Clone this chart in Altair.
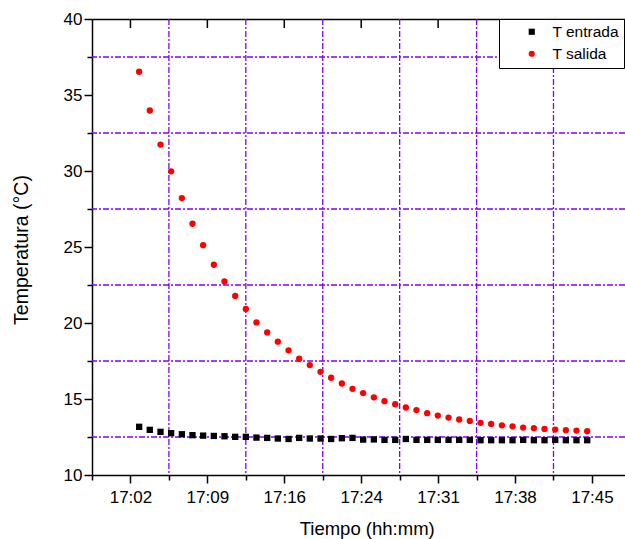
import altair as alt
import pandas as pd

# ---- data ----
times = [3.31, 4.30, 5.30, 6.29, 7.29, 8.28, 9.27, 10.27, 11.26, 12.26,
         13.25, 14.24, 15.24, 16.23, 17.23, 18.22, 19.21, 20.21, 21.20, 22.20,
         23.19, 24.18, 25.18, 26.17, 27.17, 28.16, 29.15, 30.15, 31.14, 32.14,
         33.13, 34.12, 35.12, 36.11, 37.11, 38.10, 39.09, 40.09, 41.08, 42.08,
         43.07, 44.06, 45.06]
t_entrada = [13.17, 12.97, 12.84, 12.75, 12.68, 12.62, 12.59, 12.57, 12.55, 12.51,
             12.51, 12.46, 12.44, 12.40, 12.37, 12.44, 12.40, 12.40, 12.37, 12.42,
             12.44, 12.33, 12.34, 12.31, 12.31, 12.37, 12.31, 12.31, 12.31, 12.31,
             12.31, 12.31, 12.29, 12.29, 12.29, 12.29, 12.31, 12.29, 12.29, 12.31,
             12.29, 12.29, 12.29]
t_salida = [36.53, 33.98, 31.74, 29.98, 28.22, 26.53, 25.12, 23.83, 22.73, 21.78,
            20.92, 20.04, 19.38, 18.77, 18.20, 17.65, 17.23, 16.79, 16.40, 16.02,
            15.67, 15.39, 15.11, 14.86, 14.66, 14.44, 14.27, 14.07, 13.91, 13.78,
            13.65, 13.56, 13.43, 13.36, 13.27, 13.20, 13.12, 13.08, 13.03, 12.99,
            12.95, 12.92, 12.88]
series_names = ["T entrada", "T salida"]
series_colors = ["#000000", "#ff0000"]
series_shapes = ["square", "circle"]

x_major = [2.5, 9.6667, 16.8333, 24.0, 31.1667, 38.3333, 45.5]
x_labels = ["17:02", "17:09", "17:16", "17:24", "17:31", "17:38", "17:45"]
x_minor = [-1.0833, 6.0833, 13.25, 20.4167, 27.5833, 34.75, 41.9167]
y_major = [10, 15, 20, 25, 30, 35, 40]
y_minor = [12.5, 17.5, 22.5, 27.5, 32.5, 37.5]
x_domain = [-1.0833, 48.58]
y_domain = [10, 40]

FONT = "Liberation Sans"
GRID = "#8000ff"
DASH = [6, 2, 2, 2]

df = pd.DataFrame({
    "t": times + times,
    "temp": t_entrada + t_salida,
    "serie": [series_names[0]] * len(times) + [series_names[1]] * len(times),
})
ticks_df = pd.DataFrame({"t": x_major})
vgrid_df = pd.DataFrame({"t": x_minor[1:]})
hgrid_df = pd.DataFrame({"temp": y_minor})

label_expr = ""
for v, lab in zip(x_minor[1:], x_labels[:-1]):
    label_expr += f"datum.value < {v} ? '{lab}' : "
label_expr += f"'{x_labels[-1]}'"

x_scale = alt.Scale(domain=x_domain, nice=False, zero=False)
y_scale = alt.Scale(domain=y_domain, nice=False, zero=False)

legend = alt.Legend(
    title=None, orient="none", legendX=407, legendY=0,
    strokeColor="black", fillColor="white", padding=5, rowPadding=5,
    labelFont=FONT, labelFontSize=15.5, labelColor="black",
    symbolSize=38, symbolOffset=20, labelOffset=13, cornerRadius=0,
)

vgrid = alt.Chart(vgrid_df).mark_rule(color=GRID, strokeWidth=1.3, strokeDash=DASH).encode(
    x=alt.X("t:Q", scale=x_scale, axis=None),
)
hgrid = alt.Chart(hgrid_df).mark_rule(color=GRID, strokeWidth=1.3, strokeDash=DASH).encode(
    y=alt.Y("temp:Q", scale=y_scale, axis=None),
)

minor = alt.Chart(df).mark_point(opacity=0).encode(
    x=alt.X("t:Q", scale=x_scale, axis=alt.Axis(
        orient="bottom", values=x_minor, labels=False, title=None, domain=False,
        tickSize=5, tickWidth=1.5, tickColor="black", grid=False)),
    y=alt.Y("temp:Q", scale=y_scale, axis=alt.Axis(
        orient="left", values=y_minor, labels=False, title=None, domain=False,
        tickSize=5, tickWidth=1.5, tickColor="black", grid=False)),
)

points = alt.Chart(df).mark_point(filled=True, size=40, opacity=1).encode(
    x=alt.X("t:Q", scale=x_scale, axis=alt.Axis(
        orient="bottom", values=x_major, labelExpr=label_expr,
        title="Tiempo (hh:mm)", grid=False,
        tickSize=8, tickWidth=1.5, tickColor="black",
        domainColor="black", domainWidth=1.5,
        labelFont=FONT, labelFontSize=17, labelColor="black", labelPadding=6,
        labelFlush=False, labelOverlap=False,
        titleFont=FONT, titleFontSize=18.5, titleFontWeight="normal", titleColor="black",
        titleX=274.7, titleY=59, titleBaseline="alphabetic", titleAlign="center")),
    y=alt.Y("temp:Q", scale=y_scale, axis=alt.Axis(
        orient="left", values=y_major, format="d",
        title="Temperatura (°C)", grid=False,
        tickSize=8, tickWidth=1.5, tickColor="black",
        domainColor="black", domainWidth=1.5,
        labelFont=FONT, labelFontSize=17, labelColor="black", labelPadding=2,
        labelFlush=False, labelOverlap=False,
        titleFont=FONT, titleFontSize=19.5, titleFontWeight="normal", titleColor="black",
        titleAngle=270, titleX=-65, titleY=230.5, titleBaseline="alphabetic",
        titleAlign="center")),
    color=alt.Color("serie:N", scale=alt.Scale(domain=series_names, range=series_colors), legend=legend),
    shape=alt.Shape("serie:N", scale=alt.Scale(domain=series_names, range=series_shapes), legend=legend),
)

top = alt.Chart(ticks_df).mark_rule(color="black", strokeWidth=1.5).encode(
    x=alt.X("t:Q", scale=x_scale, axis=alt.Axis(
        orient="top", labels=False, ticks=False, title=None, grid=False,
        domain=True, domainColor="black", domainWidth=1.5)),
    y=alt.value(0), y2=alt.value(9),
)

chart = alt.layer(vgrid, hgrid, minor, points, top).resolve_scale(
    x="shared", y="shared"
).resolve_axis(
    x="independent", y="independent"
).properties(
    width=533, height=456,
    padding={"left": 92, "top": 19, "right": 0, "bottom": 64},
    autosize="none",
).configure_view(stroke=None).configure(background="white")

chart.save("out.html", embed_options={"renderer": "svg", "actions": False})
